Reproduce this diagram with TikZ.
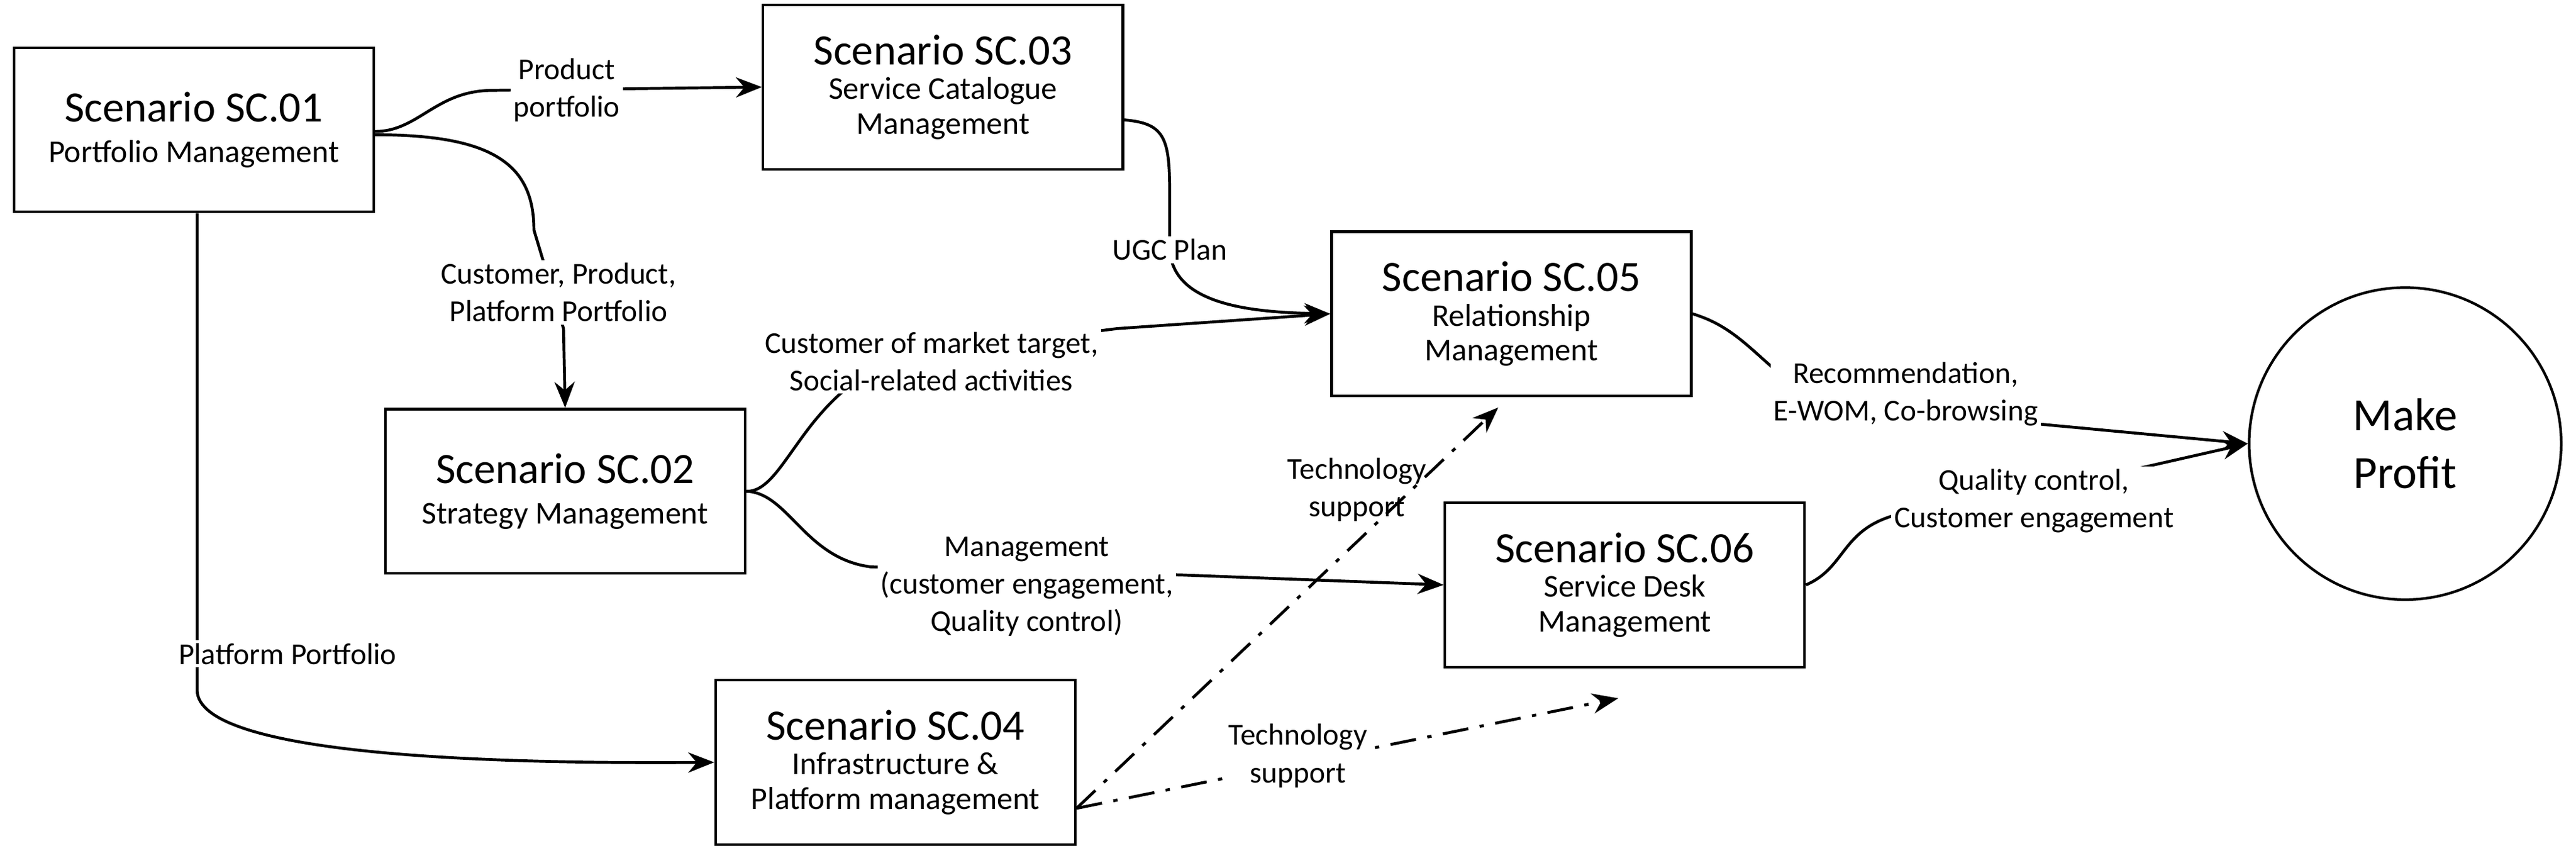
\documentclass[tikz,border=0pt]{standalone}
\usepackage{fontspec}
\setmainfont{Carlito}
\usetikzlibrary{arrows.meta}
\newcommand{\bigf}{\fontsize{15}{22}\selectfont}
\newcommand{\smf}{\fontsize{11}{16}\selectfont}
\begin{document}
\begin{tikzpicture}[x=0.02cm,y=-0.02cm,
  box/.style={draw,line width=0.9pt,minimum width=4.38cm,minimum height=2cm,align=center,inner sep=2pt},
  lab/.style={fill=white,align=center,font=\fontsize{10.5}{13}\selectfont,inner sep=1pt},
  conn/.style={line width=1pt,-{Stealth[length=9pt,width=7pt]}},
  dconn/.style={conn,dash pattern=on 9pt off 4pt on 1.5pt off 4pt}]
\useasboundingbox (0,0) rectangle (1568,525);
\node[box] (s1) at (118,79) {\bigf Scenario SC.01\\[2pt]\smf Portfolio Management};
\node[box] (s3) at (574,53) {\bigf Scenario SC.03\\\smf Service Catalogue\\\smf Management};
\node[box] (s5) at (920,191) {\bigf Scenario SC.05\\\smf Relationship\\\smf Management};
\node[box] (s2) at (344,299) {\bigf Scenario SC.02\\[2pt]\smf Strategy Management};
\node[box] (s6) at (989,356) {\bigf Scenario SC.06\\\smf Service Desk\\\smf Management};
\node[box] (s4) at (545,464) {\bigf Scenario SC.04\\\smf Infrastructure \&\\\smf Platform management};
\node[draw,circle,line width=0.9pt,minimum size=3.8cm,align=center,font=\fontsize{16}{20}\selectfont] (mp) at (1464,270) {Make\\Profit};
\coordinate (t1) at (912,248);
\coordinate (t2) at (985,425);
% connectors
\draw[conn] (s1.east) ++(0,1) .. controls (255,80) and (265,55) .. (300,55) -- (s3.west);
\draw[conn] (s1.east) ++(0,3) .. controls (300,82) and (325,100) .. (325,140) -- (343,200) -- (s2.north);
\draw[conn] (s1.south) ++(2,0) -- (120,420) .. controls (120,460) and (300,465) .. (s4.west);
\draw[conn] (s3.east) ++(0,20) .. controls (710,75) and (712,85) .. (712,120) -- (712,150) .. controls (712,185) and (760,190) .. (s5.west);
\draw[conn] (s2.east) .. controls (480,300) and (490,230) .. (560,215) -- (680,200) -- (s5.west);
\draw[conn] (s2.east) .. controls (480,300) and (490,340) .. (530,345) -- (720,350) -- (s6.west);
\draw[dconn] (s4.east) ++(0,28) -- (t1);
\draw[dconn] (s4.east) ++(0,28) -- (t2);
\draw[conn] (s5.east) .. controls (1060,200) and (1070,220) .. (1100,240) -- (1240,258) -- (mp.west);
\draw[conn] (s6.east) .. controls (1125,345) and (1120,320) .. (1160,312) -- (1280,290) -- (mp.west);
% labels
\node[lab] at (345,55) {Product\\portfolio};
\node[lab] at (340,178) {Customer, Product,\\Platform Portfolio};
\node[lab] at (175,398) {Platform Portfolio};
\node[lab] at (712,152) {UGC Plan};
\node[lab] at (567,220) {Customer of market target,\\Social-related activities};
\node[lab] at (625,357) {Management\\(customer engagement,\\Quality control)};
\node[lab,fill=none] at (826,298) {Technology\\support};
\node[lab] at (790,460) {Technology\\support};
\node[lab] at (1160,240) {Recommendation,\\E-WOM, Co-browsing};
\node[lab] at (1238,305) {Quality control,\\Customer engagement};
\end{tikzpicture}
\end{document}
